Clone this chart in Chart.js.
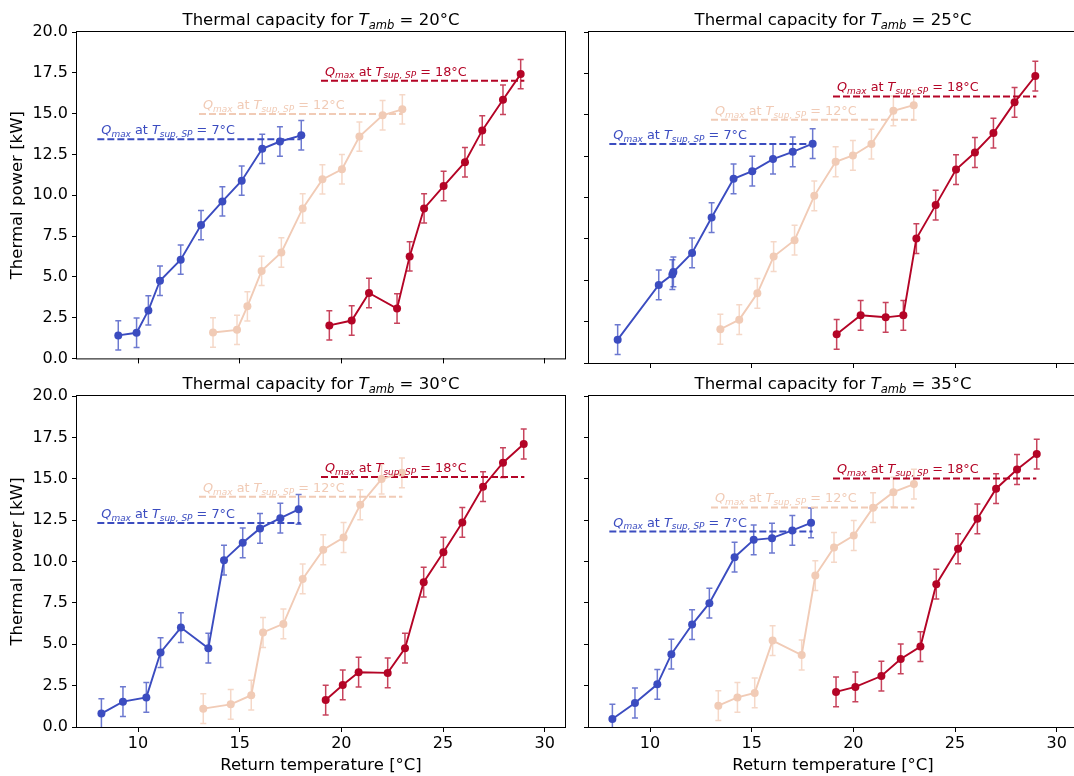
<!DOCTYPE html>
<html>
<head>
<meta charset="utf-8">
<script src="https://cdn.jsdelivr.net/npm/chart.js@4/dist/chart.umd.min.js"></script>
<style>
  html, body { margin: 0; padding: 0; background: #fff; overflow: hidden; }
  canvas { position: absolute; }
</style>
</head>
<body>
<canvas id="c20" width="575" height="372" style="left:0;top:0"></canvas>
<canvas id="c25" width="512" height="372" style="left:575px;top:0"></canvas>
<canvas id="c30" width="575" height="404" style="left:0;top:372px"></canvas>
<canvas id="c35" width="512" height="404" style="left:575px;top:372px"></canvas>
<script>
// set points (supply temperature) and ambient temperatures
const tSup = [7, 12, 18];
const tAmb = [20, 25, 30, 35];
const colors = ["#3b4cc0", "#f1cbb6", "#b40426"];
const xTicks = [10, 15, 20, 25, 30];
const errKW = 0.9;

// Qmax lines: one value per set point, for each T_amb
const qmaxStart = [8, 13, 19];
const qmaxEnd = [18, 23, 29];
const qmax20 = [13.43, 14.98, 17.02];
const qmax25 = [13.23, 14.70, 16.11];
const qmax30 = [12.32, 13.91, 15.10];
const qmax35 = [11.81, 13.27, 15.02];

// T_amb = 20
const x20_7  = [9.03, 9.93, 10.51, 11.08, 12.1, 13.1, 14.15, 15.1, 16.11, 16.98, 18.03];
const y20_7  = [1.41, 1.57, 2.94, 4.76, 6.05, 8.17, 9.62, 10.89, 12.84, 13.29, 13.67];
const x20_12 = [13.69, 14.87, 15.38, 16.08, 17.05, 18.1, 19.07, 20.03, 20.89, 22.03, 23.0];
const y20_12 = [1.59, 1.75, 3.19, 5.36, 6.49, 9.19, 10.97, 11.59, 13.59, 14.9, 15.26];
const x20_18 = [19.41, 20.51, 21.36, 22.74, 23.36, 24.07, 25.03, 26.08, 26.93, 27.95, 28.82];
const y20_18 = [2.02, 2.32, 4.01, 3.06, 6.25, 9.19, 10.56, 12.02, 13.97, 15.85, 17.42];

// T_amb = 25
const x25_7  = [8.41, 10.43, 11.1, 11.15, 12.07, 13.03, 14.11, 15.03, 16.05, 17.02, 18.0];
const y25_7  = [1.41, 4.72, 5.34, 5.5, 6.65, 8.79, 11.13, 11.59, 12.32, 12.76, 13.25];
const x25_12 = [13.46, 14.39, 15.28, 16.08, 17.11, 18.08, 19.13, 19.98, 20.89, 21.97, 22.97];
const y25_12 = [2.04, 2.62, 4.21, 6.43, 7.42, 10.1, 12.16, 12.54, 13.23, 15.24, 15.58];
const x25_18 = [19.18, 20.36, 21.59, 22.46, 23.1, 24.05, 25.05, 25.98, 26.89, 27.93, 28.95];
const y25_18 = [1.73, 2.88, 2.76, 2.88, 7.52, 9.54, 11.69, 12.72, 13.89, 15.75, 17.34];

// T_amb = 30
const x30_7  = [8.2, 9.26, 10.41, 11.11, 12.11, 13.46, 14.23, 15.15, 16.0, 17.0, 17.9];
const y30_7  = [0.81, 1.53, 1.79, 4.5, 6.01, 4.76, 10.08, 11.13, 12.0, 12.62, 13.15];
const x30_12 = [13.21, 14.56, 15.57, 16.15, 17.15, 18.1, 19.11, 20.11, 20.93, 21.98, 22.98];
const y30_12 = [1.11, 1.37, 1.92, 5.71, 6.23, 8.95, 10.71, 11.45, 13.43, 14.98, 15.36];
const x30_18 = [19.23, 20.07, 20.85, 22.28, 23.13, 24.05, 25.02, 25.95, 26.97, 27.95, 28.97];
const y30_18 = [1.63, 2.54, 3.31, 3.27, 4.76, 8.75, 10.56, 12.36, 14.52, 15.97, 17.1];

// T_amb = 35
const x35_7  = [8.15, 9.26, 10.36, 11.05, 12.07, 12.92, 14.16, 15.1, 16.0, 17.0, 17.92];
const y35_7  = [0.48, 1.45, 2.58, 4.4, 6.19, 7.48, 10.26, 11.31, 11.41, 11.88, 12.34];
const x35_12 = [13.36, 14.3, 15.15, 16.03, 17.46, 18.13, 19.05, 20.02, 20.97, 21.97, 22.98];
const y35_12 = [1.29, 1.79, 2.06, 5.22, 4.35, 9.15, 10.85, 11.57, 13.25, 14.19, 14.68];
const x35_18 = [19.15, 20.1, 21.38, 22.33, 23.3, 24.08, 25.15, 26.1, 27.02, 28.05, 29.02];
const y35_18 = [2.12, 2.42, 3.08, 4.11, 4.86, 8.63, 10.77, 12.58, 14.4, 15.56, 16.49];

Chart.defaults.font.family = "'DejaVu Sans', sans-serif";
Chart.defaults.font.size = 16;
Chart.defaults.color = "#000";

// draws a string made of parts: {t, i (italic), sub (subscript)}
function drawRich(ctx, parts, x, y, size, color, align) {
  const fontOf = p => (p.i ? "italic " : "") + (p.sub ? size * 0.7 : size) + "px 'DejaVu Sans'";
  let w = 0;
  parts.forEach(p => { ctx.font = fontOf(p); w += ctx.measureText(p.t).width; });
  let cx = align === "center" ? x - w / 2 : x;
  ctx.save();
  ctx.fillStyle = color;
  ctx.textBaseline = "alphabetic";
  ctx.textAlign = "left";
  parts.forEach(p => {
    ctx.font = fontOf(p);
    ctx.fillText(p.t, cx, p.sub ? y + size * 0.22 : y);
    cx += ctx.measureText(p.t).width;
  });
  ctx.restore();
}

const panelPlugin = {
  id: "panel",
  beforeDatasetsDraw(chart) {
    const ctx = chart.ctx, area = chart.chartArea, ys = chart.scales.y;
    ctx.save();
    ctx.beginPath();
    ctx.rect(area.left, area.top, area.right - area.left, area.bottom - area.top);
    ctx.clip();
    chart.data.datasets.forEach((ds, k) => {
      if (!ds.err) return;
      ctx.strokeStyle = ds.borderColor;
      ctx.globalAlpha = 0.75;
      ctx.lineWidth = 1.5;
      chart.getDatasetMeta(k).data.forEach((pt, i) => {
        const v = ds.data[i].y;
        const y1 = ys.getPixelForValue(v - ds.err), y2 = ys.getPixelForValue(v + ds.err);
        ctx.beginPath();
        ctx.moveTo(pt.x, y1); ctx.lineTo(pt.x, y2);
        ctx.moveTo(pt.x - 3, y1); ctx.lineTo(pt.x + 3, y1);
        ctx.moveTo(pt.x - 3, y2); ctx.lineTo(pt.x + 3, y2);
        ctx.stroke();
      });
    });
    ctx.restore();
  },
  afterDraw(chart) {
    const ctx = chart.ctx, a = chart.chartArea;
    const o = chart.options.plugins.panel;
    // frame
    ctx.save();
    ctx.strokeStyle = "#000";
    ctx.lineWidth = 1;
    ctx.strokeRect(Math.round(a.left) - 0.5, Math.round(a.top) - 0.5, a.right - a.left + 1, a.bottom - a.top + 1);
    ctx.restore();
    // title
    drawRich(ctx, [
      { t: "Thermal capacity for " }, { t: "T", i: 1 }, { t: "amb", i: 1, sub: 1 }, { t: " = " + o.tamb + "°C" }
    ], (a.left + a.right) / 2, a.top - 7, 16.5, "#000", "center");
    // Qmax labels
    chart.data.datasets.forEach((ds, k) => {
      if (ds.tsup === undefined) return;
      const p0 = chart.getDatasetMeta(k).data[0];
      drawRich(ctx, [
        { t: "Q", i: 1 }, { t: "max", i: 1, sub: 1 }, { t: " at " }, { t: "T", i: 1 },
        { t: "sup, SP", i: 1, sub: 1 }, { t: " = " + ds.tsup + "°C" }
      ], p0.x + 4, p0.y - 5, 12.8, ds.borderColor, "left");
    });
  }
};

function makePanel(id, amb, xs, ys, qmax, opt) {
  const datasets = [];
  tSup.forEach((t, k) => {
    datasets.push({
      data: xs[k].map((x, i) => ({ x: x, y: ys[k][i] })),
      borderColor: colors[k], backgroundColor: colors[k],
      borderWidth: 1.9, pointRadius: 4, pointBorderWidth: 0, pointHoverRadius: 4,
      tension: 0, err: errKW
    });
  });
  tSup.forEach((t, k) => {
    datasets.push({
      data: [{ x: qmaxStart[k], y: qmax[k] }, { x: qmaxEnd[k], y: qmax[k] }],
      borderColor: colors[k], borderWidth: 2, borderDash: [7, 3],
      pointRadius: 0, pointHoverRadius: 0, tsup: t
    });
  });
  return new Chart(document.getElementById(id), {
    type: "line",
    data: { datasets: datasets },
    plugins: [panelPlugin],
    options: {
      responsive: false,
      animation: false,
      events: [],
      layout: { padding: { top: opt.pt, right: 10, left: 0, bottom: 0 } },
      plugins: { legend: { display: false }, tooltip: { enabled: false }, panel: { tamb: amb } },
      scales: {
        x: {
          type: "linear", min: 7, max: 31,
          afterBuildTicks: s => { s.ticks = xTicks.map(v => ({ value: v })); },
          afterFit: s => { s.height = opt.xh; },
          grid: { drawOnChartArea: false, tickLength: 5, tickColor: "#000", tickWidth: 1 },
          border: { display: false },
          ticks: { display: opt.xLabels, padding: 2, maxRotation: 0, font: { size: 16 } },
          title: { display: opt.xLabels, text: "Return temperature [°C]", padding: { top: 2.5, bottom: 0 }, font: { size: 16.5 } }
        },
        y: {
          min: 0, max: 20,
          afterFit: s => { s.width = opt.yw; },
          grid: { drawOnChartArea: false, tickLength: 5, tickColor: "#000", tickWidth: 1 },
          border: { display: false },
          ticks: { display: opt.yLabels, stepSize: 2.5, padding: 4, callback: v => v.toFixed(1), font: { size: 16 } },
          title: { display: opt.yLabels, text: "Thermal power [kW]", padding: { top: 8, bottom: 0 }, font: { size: 16.5 } }
        }
      }
    }
  });
}

makePanel("c20", tAmb[0], [x20_7, x20_12, x20_18], [y20_7, y20_12, y20_18], qmax20,
  { pt: 32, xh: 9, yw: 77, xLabels: false, yLabels: true });
makePanel("c25", tAmb[1], [x25_7, x25_12, x25_18], [y25_7, y25_12, y25_18], qmax25,
  { pt: 32, xh: 9, yw: 14, xLabels: false, yLabels: false });
makePanel("c30", tAmb[2], [x30_7, x30_12, x30_18], [y30_7, y30_12, y30_18], qmax30,
  { pt: 24, xh: 49, yw: 77, xLabels: true, yLabels: true });
makePanel("c35", tAmb[3], [x35_7, x35_12, x35_18], [y35_7, y35_12, y35_18], qmax35,
  { pt: 24, xh: 49, yw: 14, xLabels: true, yLabels: false });
</script>
</body>
</html>
